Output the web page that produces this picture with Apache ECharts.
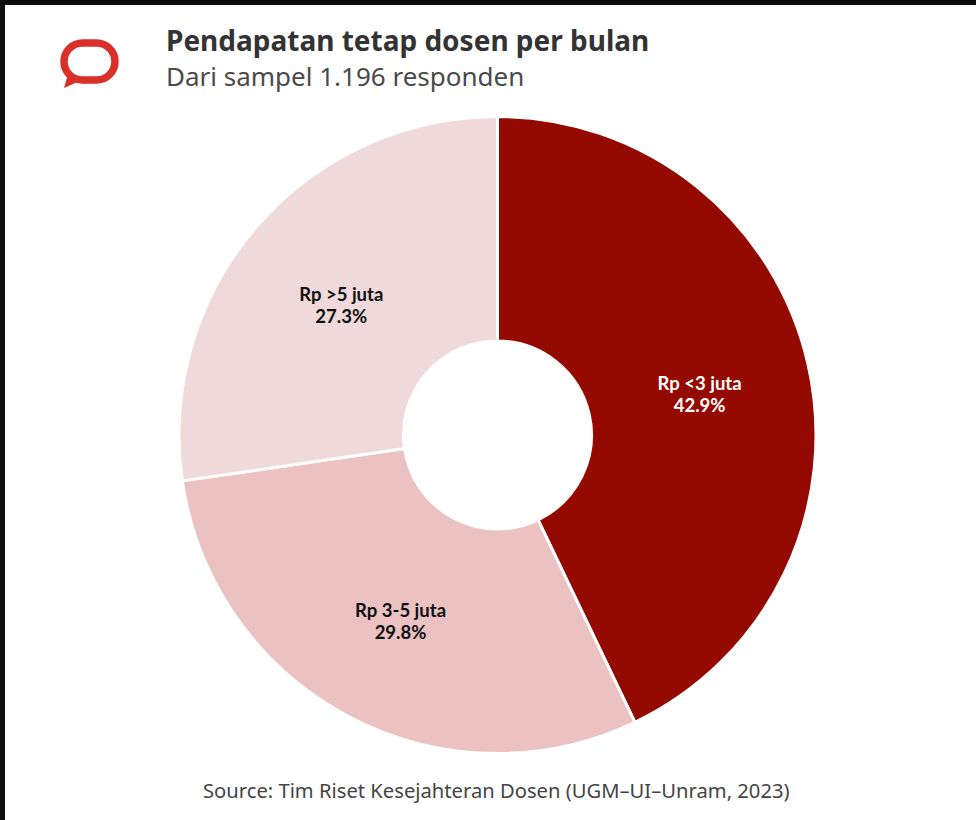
<!DOCTYPE html>
<html><head><meta charset="utf-8">
<style>html,body{margin:0;padding:0;background:#fff}#c{width:976px;height:820px}</style>
<script src="https://cdn.jsdelivr.net/npm/echarts@6/dist/echarts.min.js"></script>
</head><body><div id="c"></div>
<script>
const categories = ['Rp <3 juta','Rp 3-5 juta','Rp >5 juta'];
const values = [42.9,29.8,27.3];
const colors = ['#940900','#ebc2c1','#f0d9da'];
const labelColors = ['#fff','#111','#111'];
const labelShift = [[-2,5.5],[1.5,1.5],[2,6.5]];
const titleText = 'Pendapatan tetap dosen per bulan';
const subtitleText = 'Dari sampel 1.196 responden';
const sourceText = 'Source: Tim Riset Kesejahteran Dosen (UGM–UI–Unram, 2023)';
const font = '"Noto Sans"';
const chart = echarts.init(document.getElementById('c'),null,{renderer:'svg'});
chart.setOption({
  animation:false,
  backgroundColor:'#fff',
  title:[
    {text:titleText,left:161,top:21,textStyle:{fontFamily:font,fontSize:28,fontWeight:'bold',color:'#333'}},
    {text:subtitleText,left:161,top:58,textStyle:{fontFamily:font,fontSize:26,fontWeight:'normal',color:'#4a4a4a'}},
    {text:sourceText,left:198,top:775,textStyle:{fontFamily:font,fontSize:20.2,fontWeight:'normal',color:'#444'}}
  ],
  series:[{
    type:'pie',
    center:[497.5,435],
    radius:[94,318.5],
    startAngle:90,
    clockwise:true,
    silent:true,
    itemStyle:{borderColor:'#fff',borderWidth:3},
    label:{position:'inside',fontFamily:'Lato',fontSize:18.5,fontWeight:'bold',lineHeight:22,align:'center',
      formatter:p=>p.name+'\n'+p.value.toFixed(1)+'%'},
    labelLine:{show:false},
    data:categories.map((n,i)=>({name:n,value:values[i],itemStyle:{color:colors[i]},label:{color:labelColors[i],offset:labelShift[i]}}))
  }],
  graphic:[
    {type:'rect',shape:{x:0,y:0,width:976,height:5},style:{fill:'#0c0c0c'}},
    {type:'rect',shape:{x:0,y:0,width:5,height:820},style:{fill:'#0c0c0c'}},
    {type:'rect',shape:{x:64,y:43,width:51,height:37,r:18.5},style:{fill:'none',stroke:'#d9302a',lineWidth:7.5}},
    {type:'polygon',shape:{points:[[64,88],[68,74],[80,81]]},style:{fill:'#d9302a'}}
  ]
});
</script></body></html>
